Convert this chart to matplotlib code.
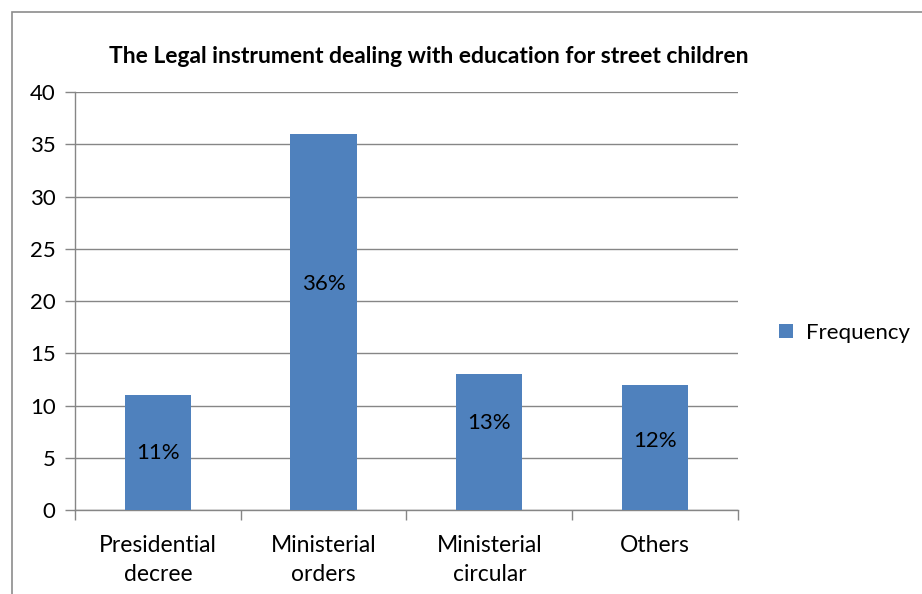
import matplotlib.pyplot as plt
from matplotlib.patches import Rectangle

# data
categories = ['Presidential\ndecree', 'Ministerial\norders', 'Ministerial\ncircular', 'Others']
frequency = [11, 36, 13, 12]
pct_labels = ['11%', '36%', '13%', '12%']

plt.rcParams['font.family'] = ['Lato', 'DejaVu Sans']

fig = plt.figure(figsize=(9.22, 5.94), dpi=100)
ax = fig.add_axes([0.0813, 0.1414, 0.7191, 0.7037])

grid_col = '#868686'
bar_col = '#4F81BD'

x = list(range(len(categories)))
bars = ax.bar(x, frequency, width=0.4, color=bar_col, zorder=3, label='Frequency')

# percentage labels sit inside the bars, roughly where Excel put them
label_y = [5.5, 21.6, 8.3, 6.6]
for xi, yi, txt in zip(x, label_y, pct_labels):
    ax.text(xi, yi, txt, ha='center', va='center', fontsize=16, color='black', zorder=4)

ax.set_xlim(-0.5, len(categories) - 0.5)
ax.set_ylim(0, 40)
ax.set_yticks(range(0, 41, 5))
ax.yaxis.grid(True, color=grid_col, linewidth=1, zorder=0)
ax.set_axisbelow(True)

ax.set_xticks(x)
ax.set_xticklabels(categories, fontsize=16.5, linespacing=1.45)
ax.tick_params(axis='x', length=0, pad=18)
ax.set_xticks([i - 0.5 for i in range(len(categories) + 1)], minor=True)
ax.tick_params(axis='x', which='minor', length=7, color=grid_col, width=1)
ax.tick_params(axis='y', length=7, color=grid_col, width=1, labelsize=16, pad=7)

for side in ['top', 'right']:
    ax.spines[side].set_visible(False)
for side in ['left', 'bottom']:
    ax.spines[side].set_color(grid_col)
    ax.spines[side].set_linewidth(1)

fig.text(0.465, 0.905, 'The Legal instrument dealing with education for street children',
         ha='center', va='center', fontsize=16.5, fontweight='bold')

ax.legend(loc='center left', bbox_to_anchor=(1.032, 0.423), frameon=False, fontsize=16,
          handlelength=0.6, handleheight=0.6, handletextpad=0.6)

# chart-area border (cut off at right and bottom in the reference)
fig.patches.append(Rectangle((12 / 922, -0.1), 1.2, 1 - 12 / 594 + 0.1,
                             transform=fig.transFigure, fill=False,
                             edgecolor='#8c8c8c', linewidth=1.2))

fig.savefig('out.png', dpi=100)
